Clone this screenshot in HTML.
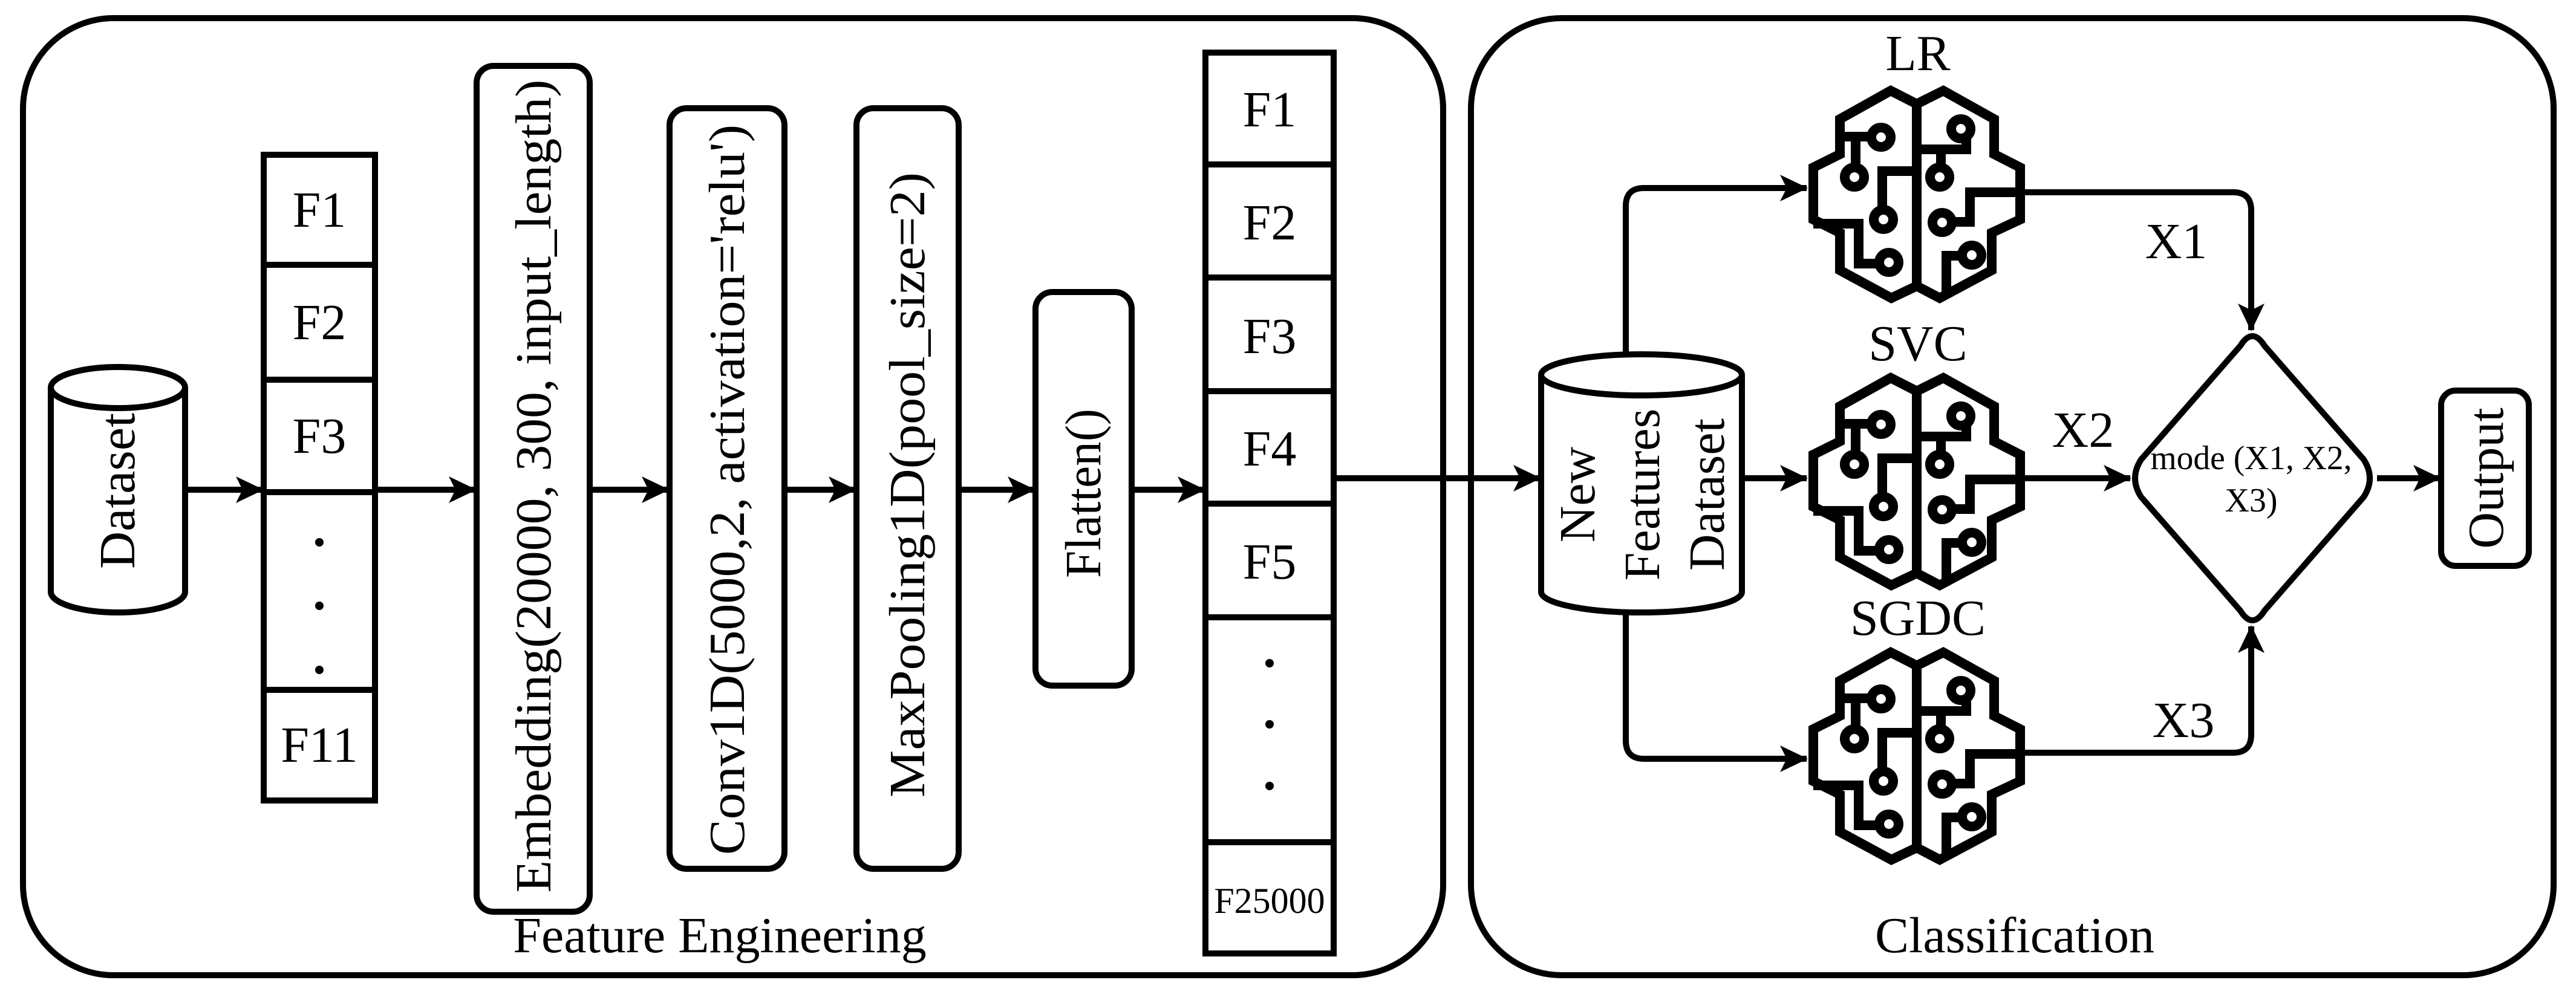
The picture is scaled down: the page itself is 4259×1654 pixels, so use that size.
<!DOCTYPE html>
<html><head><meta charset="utf-8"><style>html,body{margin:0;padding:0;background:#fff}svg{display:block}svg text{font-family:"Liberation Serif","Times New Roman",serif}</style></head>
<body>
<svg width="4259" height="1654" viewBox="0 0 4259 1654" xmlns="http://www.w3.org/2000/svg" fill="none" stroke="#000">
<defs>
<marker id="a" markerUnits="userSpaceOnUse" markerWidth="50" markerHeight="50" refX="44" refY="22" orient="auto">
<path d="M0,0 L46,22 L0,44 L11,22 z" fill="#000" stroke="none"/>
</marker>
<g id="brain" stroke-width="16" stroke-linejoin="miter" fill="none">
<path d="M136,13 L179,35 L223,13 L307,60 L307,118 L350,140 L350,226 L303,248 L303,310 L217,356 L179,336 L137,356 L52,310 L52,248 L8,226 L8,140 L52,118 L52,60 Z"/>
<path d="M179,35 V336"/>
<path d="M52,89 H104 M78,89 V140"/>
<circle cx="120" cy="90" r="16"/>
<circle cx="76" cy="156" r="16"/>
<path d="M179,146 H122 V210"/>
<circle cx="124" cy="226" r="16"/>
<path d="M8,233 H83 V299 H117"/>
<circle cx="133" cy="297" r="16"/>
<path d="M179,110 H261 V92"/>
<circle cx="252" cy="76" r="16"/>
<path d="M219,110 V140"/>
<circle cx="217" cy="156" r="16"/>
<path d="M350,181 H267 V230 H237"/>
<circle cx="221" cy="231" r="16"/>
<path d="M228,346 V286 H254"/>
<circle cx="270" cy="285" r="16"/>
</g>
</defs>

<rect x="38" y="30" width="2348" height="1583" rx="150" stroke-width="10"/>
<rect x="2432" y="30" width="1790" height="1583" rx="150" stroke-width="10"/>

<path d="M84,641 V979 A111,34 0 0 0 306,979 V641 A111,34 0 0 0 84,641 A111,34 0 0 0 306,641" stroke-width="10"/>
<text transform="translate(222,812) rotate(-90)" font-size="84" fill="#000" stroke="none" text-anchor="middle" textLength="258" lengthAdjust="spacingAndGlyphs">Dataset</text>

<rect x="436" y="256" width="184" height="1068" stroke-width="10"/>
<path d="M436,438 H620 M436,628 H620 M436,814 H620 M436,1141 H620" stroke-width="10"/>
<g fill="#000" stroke="none" font-size="84" text-anchor="middle">
<text x="528" y="375">F1</text>
<text x="528" y="561">F2</text>
<text x="528" y="749">F3</text>
<text x="528" y="1260">F11</text>
<circle cx="528" cy="897" r="7"/><circle cx="528" cy="1002" r="7"/><circle cx="528" cy="1108" r="7"/>
</g>

<rect x="788" y="109" width="187" height="1399" rx="28" stroke-width="10"/>
<rect x="1107" y="179" width="190" height="1258" rx="28" stroke-width="10"/>
<rect x="1416" y="179" width="169" height="1258" rx="28" stroke-width="10"/>
<rect x="1712" y="483" width="159" height="651" rx="28" stroke-width="10"/>
<g fill="#000" stroke="none" font-size="84" text-anchor="middle">
<text transform="translate(910,804) rotate(-90)" textLength="1345" lengthAdjust="spacingAndGlyphs">Embedding(20000, 300, input_length)</text>
<text transform="translate(1230,810) rotate(-90)" textLength="1208" lengthAdjust="spacingAndGlyphs">Conv1D(5000,2, activation='relu')</text>
<text transform="translate(1528,802) rotate(-90)" textLength="1034" lengthAdjust="spacingAndGlyphs">MaxPooling1D(pool_size=2)</text>
<text transform="translate(1819,816) rotate(-90)" textLength="280" lengthAdjust="spacingAndGlyphs">Flatten()</text>
</g>

<rect x="1993" y="87" width="212" height="1490" stroke-width="10"/>
<path d="M1993,272 H2205 M1993,459 H2205 M1993,647 H2205 M1993,833 H2205 M1993,1021 H2205 M1993,1393 H2205" stroke-width="10"/>
<g fill="#000" stroke="none" font-size="84" text-anchor="middle">
<text x="2099" y="209">F1</text>
<text x="2099" y="396">F2</text>
<text x="2099" y="584">F3</text>
<text x="2099" y="770">F4</text>
<text x="2099" y="957">F5</text>
<text x="2099" y="1510" font-size="60">F25000</text>
<circle cx="2099" cy="1097" r="7"/><circle cx="2099" cy="1198" r="7"/><circle cx="2099" cy="1300" r="7"/>
</g>
<text x="1190" y="1575" font-size="84" fill="#000" stroke="none" text-anchor="middle">Feature Engineering</text>

<g stroke-width="10" marker-end="url(#a)">
<path d="M306,810 H434"/>
<path d="M620,810 H786"/>
<path d="M975,810 H1105"/>
<path d="M1297,810 H1414"/>
<path d="M1585,810 H1710"/>
<path d="M1871,810 H1991"/>
<path d="M2205,791 H2546"/>
</g>

<path d="M2548,620 V979 A166,34 0 0 0 2880,979 V620 A166,34 0 0 0 2548,620 A166,34 0 0 0 2880,620" stroke-width="10"/>
<g fill="#000" stroke="none" font-size="84" text-anchor="middle">
<text transform="translate(2636,818) rotate(-90)">New</text>
<text transform="translate(2743,818) rotate(-90)">Features</text>
<text transform="translate(2850,818) rotate(-90)">Dataset</text>
</g>

<g stroke-width="10" marker-end="url(#a)">
<path d="M2688,586 V341 Q2688,311 2718,311 H2987"/>
<path d="M2880,791 H2987"/>
<path d="M2688,1013 V1225 Q2688,1255 2718,1255 H2987"/>
</g>

<use href="#brain" x="2990" y="137"/>
<use href="#brain" x="2990" y="612"/>
<use href="#brain" x="2990" y="1066"/>
<g fill="#000" stroke="none" font-size="84" text-anchor="middle">
<text x="3171" y="116">LR</text>
<text x="3171" y="596">SVC</text>
<text x="3171" y="1050">SGDC</text>
<text x="3598" y="427">X1</text>
<text x="3444" y="739">X2</text>
<text x="3610" y="1219">X3</text>
</g>

<g stroke-width="10" marker-end="url(#a)">
<path d="M3340,318 H3692 Q3722,318 3722,348 V546"/>
<path d="M3340,791 H3522"/>
<path d="M3340,1245 H3692 Q3722,1245 3722,1215 V1036"/>
<path d="M3930,791 H4034"/>
</g>

<path d="M3704,572 Q3724,540 3744,572 L3908,760 Q3928,791 3908,822 L3744,1010 Q3724,1042 3704,1010 L3540,822 Q3520,791 3540,760 Z" stroke-width="10" stroke-linejoin="round"/>
<g fill="#000" stroke="none" font-size="56" text-anchor="middle">
<text x="3722" y="776" textLength="333" lengthAdjust="spacingAndGlyphs">mode (X1, X2,</text>
<text x="3722" y="846">X3)</text>
</g>

<rect x="4036" y="646" width="145" height="290" rx="24" stroke-width="10"/>
<text transform="translate(4138,791) rotate(-90)" font-size="84" fill="#000" stroke="none" text-anchor="middle">Output</text>

<text x="3331" y="1575" font-size="84" fill="#000" stroke="none" text-anchor="middle">Classification</text>
</svg>
</body></html>
